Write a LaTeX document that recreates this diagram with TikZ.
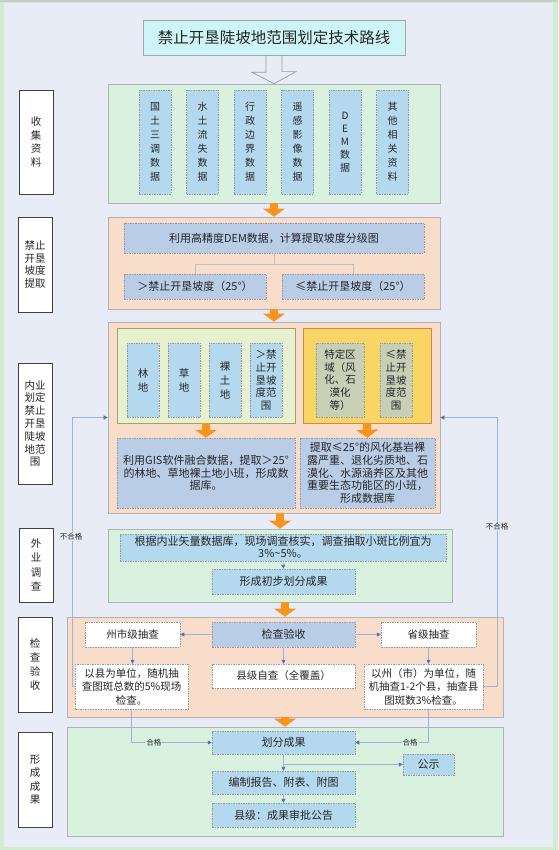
\documentclass[tikz,border=0pt]{standalone}
\usepackage{fontspec}
\setmainfont{Noto Sans CJK SC}
\usetikzlibrary{arrows.meta}

\definecolor{bggreen}{HTML}{D3EBCF}
\definecolor{bgfill}{HTML}{E7ECF7}
\definecolor{topgrey}{HTML}{C9CDC9}
\definecolor{titlecyan}{HTML}{CDF5F7}
\definecolor{sectgreen}{HTML}{D9F1DF}
\definecolor{sectpeach}{HTML}{F8DDCB}
\definecolor{datablue}{HTML}{B4D8EE}
\definecolor{slopeblue}{HTML}{B9CDE7}
\definecolor{vegfill}{HTML}{E7F1D0}
\definecolor{goldfill}{HTML}{F9D565}
\definecolor{olivefill}{HTML}{C7CFB7}
\definecolor{arrorange}{HTML}{F7941D}
\definecolor{linkblue}{HTML}{9DB3DC}
\definecolor{tipblue}{HTML}{4A72C0}

\begin{document}
\begin{tikzpicture}[x=1pt, y=-1pt, text=black!85]
	% 样式
	\tikzset{
		lab/.style={draw=black!75, fill=white, line width=0.9pt, inner sep=0pt, align=center, minimum width=34, font=\fontsize{10.5}{13.5}\selectfont},
		sect/.style={draw=black!30, line width=0.7pt, inner sep=0pt},
		cell/.style={draw=black!40, dash pattern=on 1.5pt off 1pt, line width=0.5pt, inner sep=0pt, align=center, font=\fontsize{10.5}{13}\selectfont},
		datacell/.style={cell, fill=datablue, minimum width=32, minimum height=104, font=\fontsize{10}{14}\selectfont},
		wide/.style={cell, minimum width=143, font=\fontsize{11}{13}\selectfont},
		bigarrow/.style={draw=arrorange, line width=8pt, -{Triangle[length=8pt, width=22pt, line width=0pt]}},
		link/.style={draw=linkblue, line width=0.6pt, -{Triangle[length=4pt, width=4pt, color=tipblue]}},
		plainline/.style={draw=black!25, line width=0.6pt},
		tag/.style={inner sep=1pt, font=\fontsize{7.5}{9}\selectfont}
	}
	
	% 背景
	\useasboundingbox (0,0) rectangle (558,850);
	\fill[bggreen] (0,0) rectangle (558,850);
	\fill[bgfill] (4,3) rectangle (553,847);
	\fill[topgrey] (0,0) rectangle (558,2);
	
	% 标题
	\node[draw=black!35, fill=titlecyan, line width=0.7pt, minimum width=262, minimum height=35, font=\fontsize{15.5}{18}\selectfont] (title) at (274,37.5) {禁止开垦陡坡地范围划定技术路线};
	
	% 左侧阶段
	\node[lab, minimum height=104] (l1) at (36,142) {收\\集\\资\\料};
	\node[lab, minimum height=95, font=\fontsize{10.5}{12.5}\selectfont] (l2) at (35,264.5) {禁止\\开垦\\坡度\\提取};
	\node[lab, minimum height=121, font=\fontsize{10.5}{12.8}\selectfont] (l3) at (35,423.5) {内业\\划定\\禁止\\开垦\\陡坡\\地范\\围};
	\node[lab, minimum height=74, font=\fontsize{10.5}{14.4}\selectfont] (l4) at (36,565) {外\\业\\调\\查};
	\node[lab, minimum height=95, font=\fontsize{10.5}{14}\selectfont] (l5) at (35,664.5) {检\\查\\验\\收};
	\node[lab, minimum height=95] (l6) at (35,779.5) {形\\成\\成\\果};
	
	% 各阶段底框
	\node[sect, fill=sectgreen, minimum width=332, minimum height=119] (coll) at (274,143.5) {};
	\node[sect, fill=sectpeach, minimum width=332, minimum height=92] (slope) at (274,263) {};
	\node[sect, fill=sectpeach, minimum width=332, minimum height=191] (inner) at (274,417.5) {};
	\node[sect, fill=sectgreen, minimum width=344, minimum height=73] (field) at (280,565.5) {};
	\node[sect, fill=sectpeach, minimum width=436, minimum height=100] (check) at (285,667) {};
	\node[sect, fill=sectgreen, minimum width=436, minimum height=109] (result) at (285,781.5) {};
	
	% 空心箭头
	\draw[draw=black!40, line width=0.7pt] ([xshift=-8pt]title.south) -- ++(0,17) -- ++(-14,0) -- (coll.north) -- ++(22,-12) -- ++(-14,0) -- ([xshift=8pt]title.south);
	
	% 收集资料
	\node[datacell] (gtsd) at (155,142) {国\\土\\三\\调\\数\\据};
	\node[datacell] (stls) at (202.5,142) {水\\土\\流\\失\\数\\据};
	\node[datacell] (xzbj) at (250,142) {行\\政\\边\\界\\数\\据};
	\node[datacell] (ygyx) at (297.5,142) {遥\\感\\影\\像\\数\\据};
	\node[datacell, font=\fontsize{10}{13}\selectfont] (dem) at (345,142) {D\\E\\M\\数\\据};
	\node[datacell] (qtzl) at (392.5,142) {其\\他\\相\\关\\资\\料};
	
	% 坡度提取
	\node[cell, fill=slopeblue, minimum width=300, minimum height=30, font=\fontsize{11}{13}\selectfont] (demcalc) at (274,238) {利用高精度DEM数据，计算提取坡度分级图};
	\node[cell, fill=slopeblue, minimum width=142, minimum height=25, font=\fontsize{11}{13}\selectfont] (gt25) at (195,286.5) {＞禁止开垦坡度（25°）};
	\node[cell, fill=slopeblue, minimum width=142, minimum height=25, font=\fontsize{11}{13}\selectfont] (le25) at (353,286.5) {≤禁止开垦坡度（25°）};
	\draw[plainline] (demcalc.south) -- ++(0,11) coordinate (split);
	\draw[plainline] (gt25.north) |- (split) -| (le25.north);
	
	% 内业划定
	\node[draw=black!35!olive!60, fill=vegfill, line width=0.7pt, minimum width=178, minimum height=95] (vegbox) at (206,375.5) {};
	\node[draw=black!30!orange!70, fill=goldfill, line width=0.7pt, minimum width=128, minimum height=95] (spbox) at (367,375.5) {};
	\node[cell, fill=datablue, minimum width=32, minimum height=74, font=\fontsize{10.5}{14}\selectfont] (lindi) at (143,380) {林\\地};
	\node[cell, fill=datablue, minimum width=32, minimum height=74, font=\fontsize{10.5}{14}\selectfont] (caodi) at (184,380) {草\\地};
	\node[cell, fill=datablue, minimum width=32, minimum height=74, font=\fontsize{10.5}{14}\selectfont] (luotu) at (225,380) {裸\\土\\地};
	\node[cell, fill=datablue, minimum width=32, minimum height=74, font=\fontsize{10.5}{12.7}\selectfont] (gtrange) at (266,380) {＞禁\\止开\\垦坡\\度范\\围};
	\node[cell, fill=olivefill, minimum width=48, minimum height=74, font=\fontsize{10.5}{12.7}\selectfont] (tdqy) at (340,380) {特定区\\域（风\\化、石\\漠化\\等）};
	\node[cell, fill=olivefill, minimum width=32, minimum height=74, font=\fontsize{10.5}{12.7}\selectfont] (lerange) at (396,380) {≤禁\\止开\\垦坡\\度范\\围};
	\node[cell, fill=slopeblue, minimum width=178, minimum height=70, font=\fontsize{11}{12.5}\selectfont] (gisbox) at (206,473) {利用GIS软件融合数据，提取＞25°\\的林地、草地裸土地小班，形成数\\据库。};
	\node[cell, fill=slopeblue, minimum width=135, minimum height=70, font=\fontsize{11}{12.6}\selectfont] (ecobox) at (367.5,473) {提取≤25°的风化基岩裸\\露严重、退化劣质地、石\\漠化、水源涵养区及其他\\重要生态功能区的小班，\\形成数据库};
	
	% 外业调查
	\node[cell, fill=datablue, minimum width=326, minimum height=27, font=\fontsize{11}{12}\selectfont] (survey) at (283,547.5) {根据内业矢量数据库，现场调查核实，调查抽取小斑比例宜为\\3\%\textasciitilde5\%。};
	\node[wide, fill=datablue, minimum height=25] (prelim) at (283.5,581.5) {形成初步划分成果};
	
	% 检查验收
	\node[wide, fill=slopeblue, minimum height=25] (checkacc) at (283.5,634.5) {检查验收};
	\node[cell, fill=white, minimum width=95, minimum height=25, font=\fontsize{10.5}{13}\selectfont] (zscheck) at (132.5,634.5) {州市级抽查};
	\node[cell, fill=white, minimum width=95, minimum height=25, font=\fontsize{10.5}{13}\selectfont] (sjcheck) at (428.5,634.5) {省级抽查};
	\node[cell, fill=white, minimum width=113, minimum height=45, font=\fontsize{10.5}{13.5}\selectfont] (xjcheck) at (131.5,686.5) {以县为单位，随机抽\\查图斑总数的5\%现场\\检查。};
	\node[wide, fill=white, minimum height=24, font=\fontsize{10.5}{13}\selectfont] (selfcheck) at (283.5,676) {县级自查（全覆盖）};
	\node[cell, fill=white, minimum width=119, minimum height=45, font=\fontsize{10.5}{13.5}\selectfont] (szcheck) at (423.5,686.5) {以州（市）为单位，随\\机抽查1-2个县，抽查县\\图斑数3\%检查。};
	
	% 形成成果
	\node[wide, fill=datablue, minimum height=23] (hfcg) at (283.5,742.5) {划分成果};
	\node[cell, fill=datablue, minimum width=51, minimum height=21, font=\fontsize{11}{13}\selectfont] (gongshi) at (428.5,764.5) {公示};
	\node[wide, fill=datablue, minimum height=23] (bzbg) at (283.5,782.5) {编制报告、附表、附图};
	\node[wide, fill=datablue, minimum height=24] (spgg) at (283.5,815) {县级：成果审批公告};
	
	% 橙色箭头
	\draw[bigarrow] (coll.south) -- (slope.north);
	\draw[bigarrow] (slope.south) -- (inner.north);
	\draw[bigarrow] (vegbox.south) -- (gisbox.north);
	\draw[bigarrow] (spbox.south) -- (ecobox.north);
	\draw[bigarrow] (field.north |- inner.south) -- (field.north);
	\draw[bigarrow] (check.north |- field.south) -- (check.north);
	\draw[bigarrow] (check.south) -- (result.north);
	
	% 连线
	\draw[link] (survey.south) -- (prelim.north);
	\draw[link] (checkacc.west) -- (zscheck.east);
	\draw[link] (checkacc.east) -- (sjcheck.west);
	\draw[link] (zscheck.south) -- (zscheck.south |- xjcheck.north);
	\draw[link] (checkacc.south) -- (selfcheck.north);
	\draw[link] (sjcheck.south) -- (sjcheck.south |- szcheck.north);
	\draw[link] (xjcheck.west) -- ++(-2,0) |- (inner.west);
	\draw[link] (szcheck.east) -- ++(14,0) |- (inner.east);
	\node[tag, fill=bgfill] (ng1) at (71,537) {不合格};
	\node[tag, fill=bgfill] (ng2) at (497,527) {不合格};
	\draw[link] (xjcheck.south) |- (hfcg.west) node[tag, fill=sectgreen, pos=0.64] (ok1) {合格};
	\draw[link] (sjcheck.south |- szcheck.south) |- (hfcg.east) node[tag, fill=sectgreen, pos=0.625] (ok2) {合格};
	\draw[link] (hfcg.south) -- (bzbg.north);
	\draw[link] (hfcg.south) |- (gongshi.west);
	\draw[link] (bzbg.south) -- (spgg.north);
\end{tikzpicture}
\end{document}
